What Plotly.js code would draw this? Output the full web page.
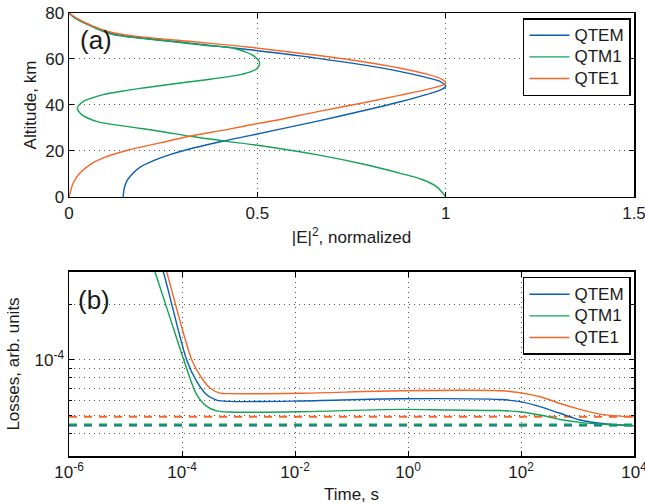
<!DOCTYPE html>
<html>
<head>
<meta charset="utf-8">
<script src="https://cdn.plot.ly/plotly-3.0.1.min.js"></script>
<style>html,body{margin:0;padding:0;background:#fff;}#chart{width:645px;height:504px;}</style>
</head>
<body>
<div id="chart"></div>
<script>
// ---------- Panel (a): |E|^2 normalized vs altitude ----------
const altQTEM = [0, 3.2, 6.8, 9.7, 12.9, 15.8, 18.4, 21.3, 24.6, 26.7, 29.5, 32.9, 37.8, 41.3, 44.5, 46.7, 48.1, 50.0, 52.0, 54.6, 57.2, 60.4, 64.0, 66.9, 69.0, 71.0, 74.5, 77.8, 80];
const eQTEM   = [0.144, 0.146, 0.153, 0.166, 0.188, 0.224, 0.268, 0.330, 0.418, 0.48, 0.56, 0.657, 0.789, 0.877, 0.948, 0.988, 1.0, 0.988, 0.948, 0.877, 0.789, 0.657, 0.48, 0.32, 0.2, 0.115, 0.06, 0.017, 0];

const altQTM1 = [0, 1.7, 4.6, 7.5, 10.4, 14.0, 18.4, 22.5, 24.2, 26.4, 28.6, 30.7, 32.9, 35.8, 38.7, 40.0, 41.6, 43.0, 44.5, 46.0, 47.4, 49.0, 51.0, 52.0, 53.2, 54.6, 56.0, 58.3, 60.0, 61.9, 63.3, 64.8, 66.0, 67.7, 69.0, 70.6, 72.0, 74.9, 77.8, 80];
const eQTM1   = [1.0, 0.992, 0.975, 0.939, 0.877, 0.789, 0.657, 0.5, 0.418, 0.321, 0.241, 0.153, 0.073, 0.034, 0.022, 0.027, 0.038, 0.06, 0.091, 0.14, 0.197, 0.27, 0.365, 0.41, 0.455, 0.485, 0.5, 0.506, 0.5, 0.485, 0.465, 0.435, 0.36, 0.268, 0.19, 0.117, 0.09, 0.05, 0.016, 0];

const altQTE1 = [0, 1.7, 6.1, 10.4, 14.1, 17.0, 20.2, 23.5, 26.4, 29.3, 31.6, 34.0, 37.0, 41.2, 44.2, 46.7, 48.4, 49.6, 51.4, 53.5, 56.1, 58.6, 61.6, 65.1, 67.5, 69.5, 71.4, 74.2, 77.8, 80];
const eQTE1   = [0, 0.003, 0.011, 0.029, 0.056, 0.091, 0.153, 0.241, 0.32, 0.418, 0.49, 0.57, 0.657, 0.789, 0.877, 0.948, 0.988, 1.0, 0.988, 0.948, 0.877, 0.789, 0.657, 0.48, 0.33, 0.2, 0.117, 0.064, 0.02, 0];

// ---------- Panel (b): losses vs time ----------
const tQTEM = [2.5e-5, 4.67e-5, 1.21e-4, 1.82e-4, 2.74e-4, 4.11e-4, 7.08e-4, 1.22e-2, 0.72, 42.5, 96, 217, 490, 1107, 2500, 5650, 1e4];
const lQTEM = [5.37e-4, 3.0e-4, 9.98e-5, 7.64e-5, 6.46e-5, 6.04e-5, 5.94e-5, 5.97e-5, 6.14e-5, 6.08e-5, 5.92e-5, 5.56e-5, 5.12e-5, 4.71e-5, 4.52e-5, 4.42e-5, 4.39e-5];

const tQTM1 = [1.81e-5, 3.33e-5, 6.14e-5, 1.05e-4, 1.82e-4, 2.74e-4, 4.11e-4, 7.08e-4, 1.22e-2, 0.72, 5.5, 42.5, 96, 217, 490, 1107, 2500, 1e4];
const lQTM1 = [5.33e-4, 3.0e-4, 1.69e-4, 1.02e-4, 6.46e-5, 5.58e-5, 5.28e-5, 5.20e-5, 5.22e-5, 5.38e-5, 5.33e-5, 5.30e-5, 5.22e-5, 5.01e-5, 4.74e-5, 4.57e-5, 4.48e-5, 4.39e-5];

const tQTE1 = [2.94e-5, 5.36e-5, 1.49e-4, 2.23e-4, 3.13e-4, 4.71e-4, 7.08e-4, 1.22e-2, 0.72, 42.5, 96, 217, 490, 1107, 2500, 5650, 1e4];
const lQTE1 = [5.73e-4, 3.0e-4, 9.98e-5, 7.96e-5, 7.03e-5, 6.59e-5, 6.55e-5, 6.58e-5, 6.79e-5, 6.79e-5, 6.62e-5, 6.30e-5, 5.79e-5, 5.38e-5, 5.07e-5, 4.94e-5, 4.91e-5];

// asymptotic (dashed) levels
const tLimits = [1e-6, 1e4];
const limQTEM = 4.39e-5;
const limQTM1 = 4.45e-5;
const limQTE1 = 4.9e-5;

const modeNames = ['QTEM', 'QTM1', 'QTE1'];
const xTicksA = [0, 0.5, 1, 1.5];
const xTickTextA = ['0', '0.5', '1', '1.5'];
const yTicksA = [0, 20, 40, 60, 80];
const xTicksB = [1e-6, 1e-4, 1e-2, 1, 1e2, 1e4];
const xTickTextB = ['10<sup>-6</sup>', '10<sup>-4</sup>', '10<sup>-2</sup>', '10<sup>0</sup>', '10<sup>2</sup>', '10<sup>4</sup>'];
const yTicksB = [1e-4];
const yTickTextB = ['10<sup>-4</sup>'];
const yMinorB = [3e-5, 4e-5, 5e-5, 6e-5, 7e-5, 8e-5, 9e-5, 2e-4, 3e-4];

// ---------- style ----------
const colors = {QTEM: '#0b5fb0', QTM1: '#13a356', QTE1: '#f5672b'};
const FONT = 'Liberation Sans, Arial, Helvetica, sans-serif';
const TXT = '#1a1a1a';
const gridStyle = {showgrid: true, gridcolor: '#555', gridwidth: 1, griddash: '1px,4px'};
const axBase = Object.assign({
  showline: true, linecolor: '#000', linewidth: 1.5, mirror: 'ticks',
  ticks: 'inside', ticklen: 5, tickcolor: '#000', tickwidth: 1,
  zeroline: false, ticklabeloverflow: 'allow',
  tickfont: {family: FONT, size: 17, color: TXT}
}, gridStyle);

const curves = {
  QTEM: {alt: altQTEM, e: eQTEM, t: tQTEM, l: lQTEM, lim: limQTEM},
  QTM1: {alt: altQTM1, e: eQTM1, t: tQTM1, l: lQTM1, lim: limQTM1},
  QTE1: {alt: altQTE1, e: eQTE1, t: tQTE1, l: lQTE1, lim: limQTE1}
};

const legendName = n => '<span style="font-size:17px">' + n + '</span>';

const traces = [];
modeNames.forEach(n => {
  traces.push({x: curves[n].e, y: curves[n].alt, xaxis: 'x', yaxis: 'y', mode: 'lines', name: legendName(n),
    line: {color: colors[n], width: 1.4, shape: 'spline', smoothing: 1}, legend: 'legend'});
});
// dashed asymptotes first (drawn under)
['QTE1', 'QTEM', 'QTM1'].forEach(n => {
  traces.push({x: tLimits, y: [curves[n].lim, curves[n].lim], xaxis: 'x2', yaxis: 'y2', mode: 'lines',
    showlegend: false, line: {color: colors[n], width: 2, dash: '8px,7px'}, hoverinfo: 'skip'});
});
modeNames.forEach(n => {
  traces.push({x: curves[n].t, y: curves[n].l, xaxis: 'x2', yaxis: 'y2', mode: 'lines', name: legendName(n),
    line: {color: colors[n], width: 1.4, shape: 'spline', smoothing: 0.8}, legend: 'legend2'});
});

const legendBase = {
  bgcolor: '#fff', bordercolor: '#000', borderwidth: 1.5,
  font: {family: FONT, size: 14.3, color: TXT}, xanchor: 'left', yanchor: 'top',
  tracegroupgap: 0, itemwidth: 40
};

const layout = {
  width: 645, height: 504,
  margin: {l: 69, r: 11, t: 13, b: 48},
  paper_bgcolor: '#fff', plot_bgcolor: '#fff',
  font: {family: FONT, color: TXT},
  showlegend: true,
  xaxis: Object.assign({}, axBase, {
    domain: [0, 1], anchor: 'y', range: [0, 1.5], tickmode: 'array', tickvals: xTicksA, ticktext: xTickTextA,
    title: {text: '|E|<sup>2</sup>, normalized', font: {family: FONT, size: 17, color: TXT}, standoff: 9}
  }),
  yaxis: Object.assign({}, axBase, {
    domain: [0.5847, 1], anchor: 'x', range: [0, 80], tickmode: 'array', tickvals: yTicksA,
    title: {text: 'Altitude, km', font: {family: FONT, size: 17, color: TXT}, standoff: 4}
  }),
  xaxis2: Object.assign({}, axBase, {
    domain: [0, 1], anchor: 'y2', type: 'log', range: [-6, 4], tickmode: 'array', tickvals: xTicksB, ticktext: xTickTextB,
    title: {text: 'Time, s', font: {family: FONT, size: 17, color: TXT}, standoff: 7}
  }),
  yaxis2: Object.assign({}, axBase, {
    domain: [0, 0.41535], anchor: 'x2', type: 'log', range: [Math.log10(3e-5), Math.log10(3e-4)],
    tickmode: 'array', tickvals: yTicksB, ticktext: yTickTextB,
    minor: {tickmode: 'array', tickvals: yMinorB, ticks: 'inside', ticklen: 3, tickcolor: '#000',
            showgrid: true, gridcolor: '#555', gridwidth: 1, griddash: '1px,4px'},
    title: {text: 'Losses, arb. units', font: {family: FONT, size: 17, color: TXT}, standoff: 10}
  }),
  legend: Object.assign({}, legendBase, {x: 0.8035, y: 0.9887}),
  legend2: Object.assign({}, legendBase, {x: 0.8035, y: 0.4041}),
  annotations: [
    {text: '(a)', xref: 'paper', yref: 'paper', x: 0.0478, y: 0.939, xanchor: 'center', yanchor: 'middle', showarrow: false,
     font: {family: FONT, size: 26, color: TXT}},
    {text: '(b)', xref: 'paper', yref: 'paper', x: 0.0442, y: 0.352, xanchor: 'center', yanchor: 'middle', showarrow: false,
     font: {family: FONT, size: 26, color: TXT}}
  ]
};

Plotly.newPlot('chart', traces, layout, {displayModeBar: false, staticPlot: true});
</script>
</body>
</html>
